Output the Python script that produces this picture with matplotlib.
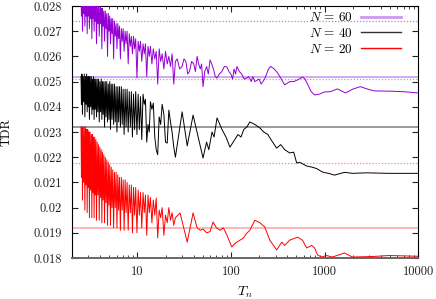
import matplotlib
matplotlib.use('Agg')
import matplotlib.pyplot as plt
from matplotlib.lines import Line2D
from matplotlib.ticker import FuncFormatter, LogLocator, MultipleLocator

# shared Tn positions of the oscillating (small Tn) part
tn_osc = [2.50, 2.527, 2.555, 2.592, 2.63, 2.67, 2.71, 2.75, 2.79, 2.83,
          2.87, 2.91, 2.95, 2.99, 3.03, 3.075, 3.12, 3.17, 3.22, 3.265,
          3.31, 3.355, 3.40, 3.45, 3.50, 3.55, 3.60, 3.66, 3.72, 3.785,
          3.85, 3.915, 3.98, 4.045, 4.11, 4.175, 4.24, 4.31, 4.38, 4.46,
          4.54, 4.625, 4.71, 4.80, 4.89, 4.98, 5.07, 5.165, 5.26, 5.36,
          5.46, 5.575, 5.69, 5.81, 5.93, 6.055, 6.18, 6.31, 6.44, 6.59,
          6.74, 6.89, 7.05, 7.22, 7.40, 7.58, 7.77, 7.98, 8.19, 8.41,
          8.63, 8.86, 9.10, 9.35, 9.60, 9.90, 10.2, 10.5, 10.8, 11.15,
          11.5, 11.85, 12.2, 12.6, 13.0, 13.4, 13.8, 14.3, 14.8, 15.35,
          15.9, 16.5, 17.1, 17.75, 18.4, 19.2, 20.0, 20.85, 21.7, 22.6,
          23.5, 24.5, 25.5]

# N = 60
tdr60_osc = [0.0285, 0.0276, 0.0285, 0.0270, 0.0285, 0.0277, 0.0284, 0.0272, 0.0285, 0.0276,
             0.0284, 0.0269, 0.0284, 0.0276, 0.0283, 0.0271, 0.0283, 0.0275, 0.0283, 0.0267,
             0.0282, 0.0275, 0.0282, 0.0270, 0.0282, 0.0274, 0.0281, 0.0265, 0.0281, 0.0273,
             0.0280, 0.0268, 0.0280, 0.0273, 0.0279, 0.0263, 0.0279, 0.0272, 0.0278, 0.0266,
             0.0278, 0.0271, 0.0277, 0.0260, 0.0277, 0.0270, 0.0276, 0.0265, 0.0275, 0.0269,
             0.0275, 0.0259, 0.0274, 0.0268, 0.0273, 0.0263, 0.0273, 0.0267, 0.0272, 0.0259,
             0.0271, 0.0266, 0.0271, 0.0262, 0.0270, 0.0265, 0.0270, 0.0257, 0.0269, 0.0264,
             0.0268, 0.0261, 0.0268, 0.0263, 0.0267, 0.02515, 0.0266, 0.0262, 0.0266, 0.0258,
             0.0265, 0.0261, 0.0265, 0.0252, 0.0264, 0.0260, 0.0264, 0.0257, 0.0263, 0.0259,
             0.0262, 0.0249, 0.0263, 0.0258, 0.0261, 0.0255, 0.0262, 0.0257, 0.0260, 0.0256,
             0.0261, 0.0249, 0.0258]
tn60_tail = [26.7, 28.3, 30.0, 31.5, 33.0, 34.5, 36.0, 38.0, 40.0, 41.7,
             43.5, 45.2, 47.0, 48.6, 50.3, 52.5, 55.0, 57.3, 59.8, 62.3,
             65.0, 68.0, 71.0, 75.0, 80.0, 85.0, 90.6, 95, 100, 104,
             108, 112, 116, 123, 130, 139, 148, 154, 160, 165,
             171, 180, 190, 200, 210, 219, 229, 240, 252, 266,
             290, 316, 345, 375, 424, 470, 516, 583, 620, 659,
             720, 783, 880, 1000, 1150, 1375, 1671, 2000, 2414, 2900,
             3404, 5000, 7000, 10000]
tdr60_tail = [0.0259, 0.0255, 0.0256, 0.0259, 0.0258, 0.0253, 0.0254, 0.0258, 0.0257, 0.0254,
              0.0260, 0.0257, 0.0255, 0.0257, 0.0248, 0.0254, 0.0256, 0.0253, 0.02586, 0.0257,
              0.0255, 0.0252, 0.02514, 0.0253, 0.0254, 0.0256, 0.02558, 0.0254, 0.0253, 0.0251,
              0.0255, 0.0253, 0.0256, 0.0254, 0.0253, 0.0251, 0.02514, 0.0252, 0.0251, 0.0250,
              0.0252, 0.0250, 0.02505, 0.0251, 0.0249, 0.0250, 0.0251, 0.0253, 0.0255, 0.0256,
              0.0255, 0.02534, 0.0251, 0.02487, 0.0250, 0.0250, 0.02507, 0.02518, 0.0251, 0.0249,
              0.0246, 0.02447, 0.0245, 0.02459, 0.0246, 0.02471, 0.02455, 0.0247, 0.0248, 0.0247,
              0.02463, 0.02462, 0.0246, 0.02455]

# N = 40
tdr40_osc = [0.0252, 0.0241, 0.0253, 0.0237, 0.0252, 0.0242, 0.0253, 0.0236, 0.0252, 0.0241,
             0.0253, 0.0238, 0.0252, 0.0240, 0.0252, 0.0235, 0.0252, 0.0240, 0.0252, 0.0237,
             0.0251, 0.0239, 0.0252, 0.0235, 0.0251, 0.0239, 0.0251, 0.0236, 0.0251, 0.0238,
             0.0251, 0.0234, 0.0250, 0.0238, 0.0251, 0.0235, 0.0250, 0.0237, 0.0250, 0.0232,
             0.0250, 0.0236, 0.0250, 0.0234, 0.0249, 0.0235, 0.0250, 0.0231, 0.0249, 0.0235,
             0.0249, 0.0233, 0.0249, 0.0234, 0.0248, 0.0230, 0.0248, 0.0234, 0.0248, 0.0232,
             0.0248, 0.0233, 0.0247, 0.0229, 0.0247, 0.0232, 0.0247, 0.0230, 0.0246, 0.0232,
             0.0246, 0.0228, 0.0245, 0.0231, 0.0246, 0.0229, 0.0245, 0.0231, 0.0244, 0.0227,
             0.0245, 0.0241, 0.0243, 0.0226, 0.0233, 0.0230, 0.0242, 0.0239, 0.02415, 0.0228,
             0.0223, 0.0221, 0.0236, 0.0233, 0.0241, 0.0237, 0.0226, 0.02256, 0.02387, 0.0234,
             0.0230, 0.0224, 0.0220]
tn40_tail = [30.1, 34.1, 39.4, 50.3, 54.9, 58.0, 62.8, 66.0, 71.0, 80.2,
             88.5, 97.6, 110, 119, 128, 137, 148, 159, 180, 204,
             224, 248, 273, 308, 340, 375, 424, 468, 504, 542,
             644, 745, 822, 953, 1130, 1277, 1633, 1986, 2800, 4914,
             10000]
tdr40_tail = [0.0238, 0.02245, 0.02367, 0.02197, 0.0226, 0.0223, 0.0230, 0.0228, 0.02356, 0.0231,
              0.0228, 0.0224, 0.0227, 0.0229, 0.0228, 0.0231, 0.0232, 0.0234, 0.0233, 0.02316,
              0.0230, 0.0229, 0.02265, 0.02236, 0.0225, 0.0223, 0.02217, 0.0222, 0.02177, 0.0218,
              0.02165, 0.0216, 0.02155, 0.02141, 0.02135, 0.02129, 0.0214, 0.02136, 0.02138, 0.02136,
              0.02136]

# N = 20
tdr20_osc = [0.0232, 0.0212, 0.0232, 0.0203, 0.0232, 0.0210, 0.0232, 0.0199, 0.0232, 0.0209,
             0.0231, 0.0198, 0.0231, 0.0208, 0.0230, 0.0196, 0.0230, 0.0207, 0.0229, 0.0196,
             0.0229, 0.0206, 0.0228, 0.0196, 0.0228, 0.0205, 0.0227, 0.0195, 0.0226, 0.0205,
             0.0225, 0.0195, 0.0224, 0.0204, 0.0223, 0.0194, 0.0222, 0.0203, 0.0221, 0.0194,
             0.0220, 0.0202, 0.0219, 0.0193, 0.0218, 0.0201, 0.0217, 0.0193, 0.0216, 0.0200,
             0.0215, 0.0192, 0.0214, 0.0200, 0.0214, 0.0192, 0.0213, 0.0199, 0.0212, 0.0191,
             0.0212, 0.0199, 0.0211, 0.0191, 0.0211, 0.0198, 0.0210, 0.0191, 0.0209, 0.0198,
             0.0209, 0.0190, 0.0208, 0.0197, 0.0208, 0.0190, 0.0207, 0.0197, 0.0206, 0.0192,
             0.0206, 0.0198, 0.0205, 0.0189, 0.0205, 0.0198, 0.0204, 0.0194, 0.0203, 0.0197,
             0.02038, 0.0188, 0.0199, 0.0196, 0.0200, 0.0189, 0.0197, 0.0194, 0.0200, 0.0195,
             0.0198, 0.0193, 0.0196]
tn20_tail = [28.6, 34.1, 39.4, 43.5, 47.0, 50.3, 55.0, 59.8, 64.4, 70.0,
             76.4, 83.0, 90.6, 102, 112, 125, 136, 148, 159, 180,
             204, 230, 260, 308, 349, 375, 424, 516, 583, 644,
             728, 783, 843, 930, 1050, 1216, 1633, 1986, 3243, 4914,
             10000]
tdr20_tail = [0.01979, 0.01863, 0.01979, 0.0192, 0.0191, 0.01915, 0.0190, 0.01905, 0.01943, 0.0192,
              0.0191, 0.0192, 0.01891, 0.01844, 0.0186, 0.01871, 0.0188, 0.01899, 0.0191, 0.0195,
              0.0194, 0.01923, 0.01871, 0.01832, 0.01863, 0.0185, 0.01871, 0.01883, 0.0187, 0.0184,
              0.0185, 0.0184, 0.01812, 0.01804, 0.0181, 0.01804, 0.0182, 0.01804, 0.01806, 0.0181,
              0.01807]

# horizontal reference levels (N = 60, 40, 20)
ref_solid = [0.02517, 0.02319, 0.01920]
ref_dotted = [0.02739, 0.02510, 0.02176]
labels = [r'$N\,=\,60$', r'$N\,=\,40$', r'$N\,=\,20$']

plt.rcParams['font.family'] = 'cmr10'
plt.rcParams['mathtext.fontset'] = 'cm'
plt.rcParams['axes.formatter.use_mathtext'] = True
plt.rcParams['font.size'] = 9

fig = plt.figure(figsize=(4.36, 2.99), dpi=100)
ax = fig.add_axes([0.165, 0.137, 0.794, 0.843])

solid_colors = ['#cc99ee', '#888888', '#ffaaaa']
dotted_colors = ['#c27ae8', '#aaaaaa', '#ff8080']
for lev, c in zip(ref_solid, solid_colors):
    ax.axhline(lev, color=c, lw=1.2, zorder=1)
for lev, c in zip(ref_dotted, dotted_colors):
    ax.axhline(lev, color=c, lw=0.9, ls=(0, (1, 1.5)), zorder=1)

ax.plot(tn_osc + tn60_tail, tdr60_osc + tdr60_tail, color='#9400d3', lw=0.7, zorder=3)
ax.plot(tn_osc + tn40_tail, tdr40_osc + tdr40_tail, color='black', lw=0.7, zorder=3)
ax.plot(tn_osc + tn20_tail, tdr20_osc + tdr20_tail, color='red', lw=0.7, zorder=3)

ax.set_xscale('log')
ax.set_xlim(2, 10000)
ax.set_ylim(0.018, 0.028)
ax.yaxis.set_major_locator(MultipleLocator(0.001))
ax.yaxis.set_major_formatter(FuncFormatter(lambda v, p: '%g' % round(v, 4)))
ax.xaxis.set_major_locator(LogLocator(base=10))
ax.xaxis.set_minor_locator(LogLocator(base=10, subs=range(2, 10)))
ax.xaxis.set_major_formatter(FuncFormatter(lambda v, p: '%g' % v))
ax.tick_params(which='both', direction='in', top=True, right=True,
               colors='#222222', labelcolor='#222222')
ax.tick_params(which='major', length=4, width=0.8)
ax.tick_params(which='minor', length=2, width=0.6)
ax.tick_params(axis='y', pad=7)
ax.tick_params(axis='x', pad=6)
for s in ax.spines.values():
    s.set_linewidth(0.8)
ax.spines['bottom'].set_color('#666666')
ax.spines['bottom'].set_linewidth(1.4)

ax.set_xlabel('$T_n$', fontsize=10)
ax.xaxis.set_label_coords(0.5, -0.105)
ax.set_ylabel('TDR', fontsize=9)
ax.yaxis.set_label_coords(-0.17, 0.5)

handles = [Line2D([], [], color='#cc99ee', lw=2.0),
           Line2D([], [], color='#333333', lw=1.0),
           Line2D([], [], color='red', lw=1.0)]
ax.legend(handles, labels, loc='upper right', frameon=False, markerfirst=False,
          handlelength=3.0, handletextpad=0.6, fontsize=9.5, labelspacing=0.2,
          borderaxespad=0.0, bbox_to_anchor=(0.965, 1.0))

fig.savefig('out.png', dpi=100)
